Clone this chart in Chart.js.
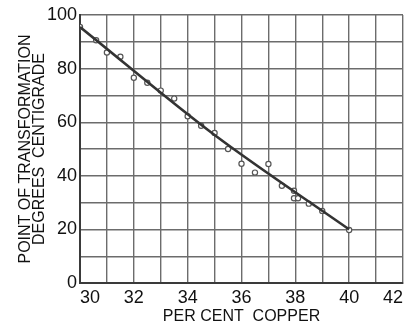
<!DOCTYPE html>
<html>
<head>
<meta charset="utf-8">
<script src="https://cdn.jsdelivr.net/npm/chart.js@4/dist/chart.umd.min.js"></script>
<style>
  html, body { margin: 0; padding: 0; background: #fff; }
  #wrap { width: 409px; height: 325px; }
</style>
</head>
<body>
<div id="wrap"><canvas id="c" width="409" height="325"></canvas></div>
<script>
// Measured transformation points: per cent copper vs. temperature (°C)
const copperPct = [30.0, 30.6, 31.0, 31.5, 32.0, 32.5, 33.0, 33.5, 34.0, 34.5, 35.0,
                   35.5, 36.0, 36.5, 37.0, 37.5, 37.95, 37.95, 38.1, 38.5, 39.0, 40.0];
const transformTemp = [95.5, 90.6, 86.0, 84.4, 76.6, 74.7, 71.8, 68.8, 62.2, 58.7, 56.0,
                       50.0, 44.5, 41.2, 44.4, 36.3, 34.4, 31.6, 31.6, 29.6, 26.9, 19.8];

// Smooth curve drawn through the points (knots)
const curveX = [30, 35, 40];
const curveY = [95.5, 55.2, 20];

// Axis ranges and which grid lines carry a number
const xRange = [30, 42];
const yRange = [0, 100];
const xLabelEvery = 2;
const yLabelEvery = 20;

const pts = copperPct.map((x, i) => ({ x, y: transformTemp[i] }));
const curve = curveX.map((x, i) => ({ x, y: curveY[i] }));

const tickFont = { family: "'Liberation Sans', Arial, sans-serif", size: 18 };
const titleFont = { family: "'Liberation Sans', Arial, sans-serif", size: 16, lineHeight: 0.92 };
const gridColor = '#6c6c6c';
const inkColor = '#3a3a3a';

new Chart(document.getElementById('c'), {
  type: 'scatter',
  data: {
    datasets: [
      {
        type: 'line',
        data: curve,
        borderColor: '#333',
        borderWidth: 2.6,
        pointRadius: 0,
        cubicInterpolationMode: 'monotone',
        order: 0
      },
      {
        data: pts,
        pointRadius: 2.6,
        pointStyle: 'circle',
        backgroundColor: '#fff',
        borderColor: '#555',
        borderWidth: 1.2,
        order: 1
      }
    ]
  },
  options: {
    responsive: false,
    animation: false,
    events: [],
    layout: { padding: { top: 15, right: 6, left: 0, bottom: 0 } },
    plugins: { legend: { display: false }, tooltip: { enabled: false } },
    scales: {
      x: {
        type: 'linear',
        min: xRange[0],
        max: xRange[1],
        afterFit(s) { s.height = 42; },
        grid: { color: gridColor, lineWidth: 1.4, drawTicks: false },
        border: { color: inkColor, width: 2 },
        ticks: {
          stepSize: 1,
          padding: 4,
          align: 'inner',
          maxRotation: 0,
          autoSkip: false,
          color: '#111',
          font: tickFont,
          callback: v => (v % xLabelEvery === 0 ? String(v) : '')
        },
        title: {
          display: true,
          text: 'PER CENT  COPPER',
          color: '#111',
          font: titleFont,
          padding: { top: 0, bottom: 1 }
        }
      },
      y: {
        type: 'linear',
        min: yRange[0],
        max: yRange[1],
        afterFit(s) { s.width = 80; },
        grid: { color: gridColor, lineWidth: 1.4, drawTicks: false },
        border: { color: inkColor, width: 2 },
        ticks: {
          stepSize: 10,
          padding: 3,
          autoSkip: false,
          color: '#111',
          font: tickFont,
          callback: v => (v % yLabelEvery === 0 ? String(v) : '')
        },
        title: {
          display: true,
          text: ['POINT OF TRANSFORMATION', 'DEGREES  CENTIGRADE'],
          color: '#111',
          font: titleFont,
          padding: { top: 18, bottom: 0 }
        }
      }
    }
  }
});
</script>
</body>
</html>
